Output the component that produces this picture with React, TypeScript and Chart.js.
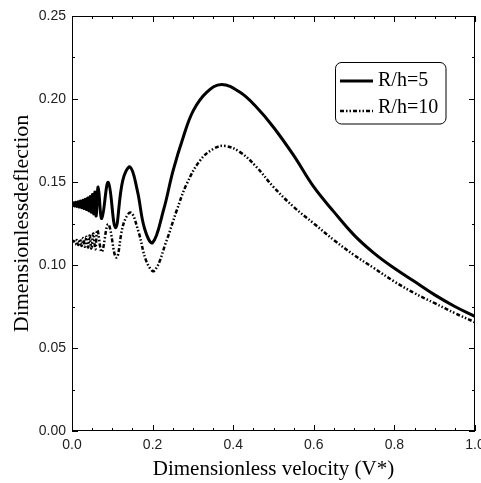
import { useEffect, useRef } from "react";
import { Chart, registerables } from "chart.js";

Chart.register(...registerables);

const seriesNames = ["R/h=5", "R/h=10"];

const xA = [
  0.0, 0.003, 0.006, 0.009, 0.012, 0.015, 0.018, 0.021, 0.024, 0.027, 0.03, 0.033, 0.036, 0.039, 0.042,
  0.045, 0.048, 0.051, 0.054, 0.057, 0.06, 0.065, 0.074, 0.09, 0.108, 0.126,
  0.144, 0.162, 0.18, 0.2, 0.227, 0.251, 0.276, 0.301, 0.334,
  0.371, 0.417, 0.458, 0.5, 0.55, 0.6, 0.65, 0.7, 0.75, 0.8, 0.85, 0.9, 0.95, 1.0,
];
const yA = [
  0.1365, 0.1375, 0.1355, 0.1378, 0.1352, 0.1381, 0.1349, 0.1385, 0.1345, 0.139, 0.134, 0.1396, 0.1334, 0.1403, 0.1327,
  0.1412, 0.1318, 0.1425, 0.1308, 0.144, 0.1295, 0.147, 0.128, 0.1498, 0.1225, 0.151,
  0.159, 0.145, 0.122, 0.1135, 0.133, 0.157, 0.177, 0.193, 0.204,
  0.2088, 0.204, 0.195, 0.183, 0.166, 0.147, 0.132, 0.118, 0.107, 0.098, 0.09, 0.082, 0.075, 0.069,
];

const xB = [
  0.0, 0.004, 0.008, 0.012, 0.016, 0.02, 0.024, 0.028, 0.032, 0.036, 0.04, 0.044, 0.048, 0.053, 0.058,
  0.063, 0.074, 0.09, 0.11, 0.128, 0.146, 0.165, 0.185,
  0.204, 0.235, 0.26, 0.285, 0.318, 0.351, 0.38, 0.417, 0.458, 0.5, 0.55,
  0.6, 0.65, 0.7, 0.75, 0.8, 0.85, 0.9, 0.95, 1.0,
];
const yB = [
  0.1135, 0.1145, 0.1125, 0.115, 0.112, 0.1155, 0.1115, 0.1162, 0.111, 0.117, 0.1105, 0.1178, 0.11, 0.119, 0.1095,
  0.121, 0.108, 0.1245, 0.1045, 0.125, 0.1315, 0.12, 0.102,
  0.0965, 0.115, 0.133, 0.149, 0.163, 0.17, 0.1717, 0.168, 0.159, 0.147, 0.135,
  0.125, 0.115, 0.106, 0.098, 0.09, 0.083, 0.077, 0.071, 0.0655,
];

const xMajorTicks = [0, 0.2, 0.4, 0.6, 0.8, 1.0];
const xMinorTicks = [0.05, 0.1, 0.15, 0.25, 0.3, 0.35, 0.45, 0.5, 0.55, 0.65, 0.7, 0.75, 0.85, 0.9, 0.95];
const yMajorTicks = [0, 0.05, 0.1, 0.15, 0.2, 0.25];
const yMinorTicks = [0.025, 0.075, 0.125, 0.175, 0.225];

const xTitle = "Dimensionless velocity (V*)";
const yTitle = "Dimensionlessdeflection";

const framePlugin = {
  id: "framePlugin",
  afterDraw(chart: any) {
    const { ctx, chartArea } = chart;
    const { left, right, top, bottom } = chartArea;
    const xs = chart.scales.x;
    const ys = chart.scales.y;
    ctx.save();
    ctx.strokeStyle = "#000";
    ctx.lineWidth = 1;
    ctx.strokeRect(left + 0.5, top + 0.5, right - left - 1, bottom - top - 1);
    const drawX = (v: number, len: number) => {
      const p = Math.round(xs.getPixelForValue(v)) + 0.5;
      ctx.beginPath();
      ctx.moveTo(p, bottom);
      ctx.lineTo(p, bottom - len);
      ctx.moveTo(p, top);
      ctx.lineTo(p, top + len);
      ctx.stroke();
    };
    const drawY = (v: number, len: number) => {
      const p = Math.round(ys.getPixelForValue(v)) + 0.5;
      ctx.beginPath();
      ctx.moveTo(left, p);
      ctx.lineTo(left + len, p);
      ctx.moveTo(right, p);
      ctx.lineTo(right - len, p);
      ctx.stroke();
    };
    xMajorTicks.forEach((v) => drawX(v, 6));
    xMinorTicks.forEach((v) => drawX(v, 3));
    yMajorTicks.forEach((v) => drawY(v, 6));
    yMinorTicks.forEach((v) => drawY(v, 3));

    // legend
    const bx = 335, by = 62, bw = 111, bh = 62, r = 6;
    ctx.beginPath();
    ctx.moveTo(bx + r, by + 0.5);
    ctx.arcTo(bx + bw, by + 0.5, bx + bw, by + bh, r);
    ctx.arcTo(bx + bw, by + bh, bx, by + bh, r);
    ctx.arcTo(bx + 0.5, by + bh, bx + 0.5, by, r);
    ctx.arcTo(bx + 0.5, by + 0.5, bx + bw, by + 0.5, r);
    ctx.closePath();
    ctx.fillStyle = "#fff";
    ctx.fill();
    ctx.stroke();
    const dsets = chart.data.datasets;
    const rows = [81, 111];
    ctx.font = "20px 'Liberation Serif'";
    ctx.textBaseline = "middle";
    ctx.textAlign = "left";
    dsets.forEach((d: any, i: number) => {
      ctx.beginPath();
      ctx.setLineDash(d.borderDash || []);
      ctx.lineWidth = d.borderWidth;
      ctx.moveTo(340, rows[i]);
      ctx.lineTo(373, rows[i]);
      ctx.stroke();
      ctx.setLineDash([]);
      ctx.fillStyle = "#000";
      ctx.fillText(d.label, 378, i === 0 ? rows[i] : rows[i] - 3);
    });
    ctx.restore();
  },
};

export default function App() {
  const ref = useRef<HTMLCanvasElement | null>(null);
  useEffect(() => {
    if (!ref.current) return;
    const chart = new Chart(ref.current, {
      type: "line",
      data: {
        datasets: [
          {
            label: seriesNames[0],
            data: xA.map((x, i) => ({ x, y: yA[i] })),
            borderColor: "#000",
            borderWidth: 3,
            pointRadius: 0,
            tension: 0.4,
            fill: false,
          },
          {
            label: seriesNames[1],
            data: xB.map((x, i) => ({ x, y: yB[i] })),
            borderColor: "#000",
            borderWidth: 2.5,
            borderDash: [4, 2, 1.5, 2, 1.5, 2],
            pointRadius: 0,
            tension: 0.4,
            fill: false,
          },
        ],
      },
      options: {
        animation: false,
        responsive: false,
        layout: { padding: { top: 16, right: 6, left: 0, bottom: 0 } },
        plugins: { legend: { display: false }, tooltip: { enabled: false } },
        scales: {
          x: {
            type: "linear",
            min: 0,
            max: 1,
            grid: { display: false, drawTicks: false },
            border: { display: false },
            ticks: {
              stepSize: 0.2,
              padding: 6,
              color: "#222",
              font: { family: "'Liberation Sans'", size: 14 },
              maxRotation: 0,
              callback: (v: any) => Number(v).toFixed(1),
            },
            title: {
              display: true,
              text: xTitle,
              color: "#000",
              font: { family: "'Liberation Serif'", size: 21 },
              padding: { top: 0, bottom: 1 },
            },
            afterFit: (s: any) => {
              s.height = 52;
              s.paddingLeft = 0;
              s.paddingRight = 0;
            },
          },
          y: {
            type: "linear",
            min: 0,
            max: 0.25,
            grid: { display: false, drawTicks: false },
            border: { display: false },
            ticks: {
              stepSize: 0.05,
              padding: 6,
              color: "#222",
              font: { family: "'Liberation Sans'", size: 14 },
              callback: (v: any) => Number(v).toFixed(2),
            },
            title: {
              display: true,
              text: yTitle,
              color: "#000",
              font: { family: "'Liberation Serif'", size: 22 },
              padding: { top: 9, bottom: 0 },
            },
            afterFit: (s: any) => {
              s.width = 72;
              s.paddingTop = 0;
              s.paddingBottom = 0;
            },
          },
        },
      },
      plugins: [framePlugin],
    } as any);
    return () => chart.destroy();
  }, []);
  return (
    <div style={{ position: "fixed", left: 0, top: 0, width: 481, height: 483, background: "#fff" }}>
      <canvas ref={ref} width={481} height={483} style={{ display: "block" }} />
    </div>
  );
}
